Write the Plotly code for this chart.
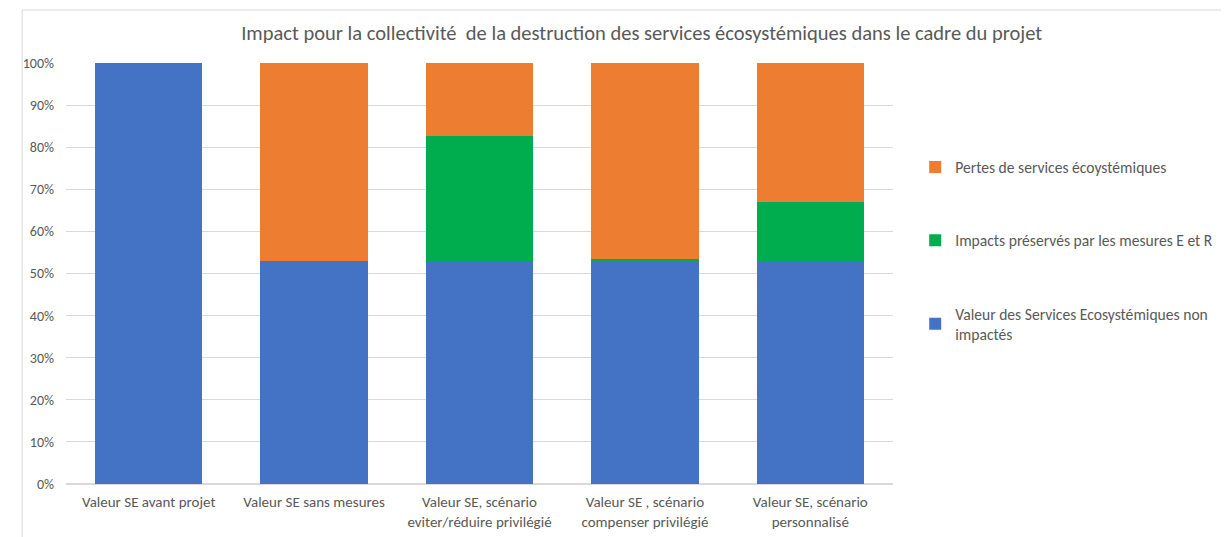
import plotly.graph_objects as go

categories = [
    "Valeur SE avant projet",
    "Valeur SE sans mesures",
    "Valeur SE, scénario<br>eviter/réduire privilégié",
    "Valeur SE , scénario<br>compenser privilégié",
    "Valeur SE, scénario<br>personnalisé",
]
non_impactes = [1.00, 0.53, 0.53, 0.53, 0.53]
preserves = [0.00, 0.00, 0.297, 0.004, 0.14]
pertes = [0.00, 0.47, 0.173, 0.466, 0.33]

series = [
    ("Valeur des Services Ecosystémiques non<br>impactés", non_impactes, "#4472C4", 3),
    ("Impacts préservés par les mesures E et R", preserves, "#00AD4E", 2),
    ("Pertes de services écoystémiques", pertes, "#ED7D31", 1),
]

FONT = "Carlito, Calibri, Roboto, Arial"
fig = go.Figure()
for i, (name, vals, col, rank) in enumerate(series):
    fig.add_trace(go.Bar(
        x=categories, y=vals, name=name, marker_color=col,
        marker_line_width=0, legendgroup=str(i), legendrank=rank,
    ))

fig.update_layout(
    width=1221, height=529,
    barmode="stack", bargap=0.35,
    plot_bgcolor="white", paper_bgcolor="white",
    margin=dict(l=58, r=336, t=55, b=53, autoexpand=False),
    font=dict(family=FONT, color="#595959", size=12),
    title=dict(text="Impact pour la collectivité  de la destruction des services écosystémiques dans le cadre du projet",
               x=0.519, xanchor="center", y=0.953, yanchor="middle",
               font=dict(size=20.5, color="#595959", family=FONT)),
    yaxis=dict(range=[0, 1], tickformat=".0%", dtick=0.1, showgrid=True, automargin=False,
               gridcolor="#D9D9D9", gridwidth=1, zeroline=True, zerolinecolor="#D9D9D9",
               ticks="", tickfont=dict(size=14), ticklabelstandoff=11, fixedrange=True),
    xaxis=dict(showline=False, ticks="", tickfont=dict(size=15), ticklabelstandoff=7,
               automargin=False),
    legend=dict(xref="container", yref="container", x=0.743, y=0.731,
                xanchor="left", yanchor="top",
                traceorder="grouped", tracegroupgap=50,
                font=dict(size=15.6, color="#595959")),
    shapes=[
        dict(type="line", xref="paper", yref="paper", x0=-0.053, x1=1.5, y0=1.126, y1=1.126,
             line=dict(color="#D9D9D9", width=1)),
        dict(type="line", xref="paper", yref="paper", x0=-0.053, x1=-0.053, y0=1.126, y1=-0.2,
             line=dict(color="#D9D9D9", width=1)),
    ],
)

fig.write_html("out.html")
